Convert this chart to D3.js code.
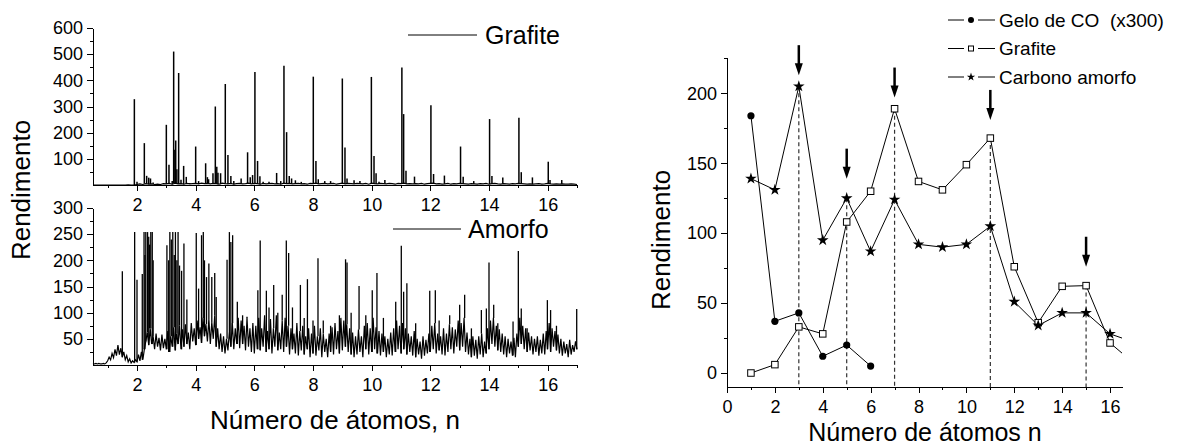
<!DOCTYPE html>
<html>
<head>
<meta charset="utf-8">
<script src="https://cdn.jsdelivr.net/npm/d3@7"></script>
<style>
body { margin: 0; background: #fff; }
text { font-family: Arial, "Liberation Sans", sans-serif; fill: #000; white-space: pre; }
.axis path, .axis line { stroke: #000; stroke-width: 1; shape-rendering: crispEdges; }
</style>
</head>
<body>
<script>
// ---------- data: left, Grafite spectrum ----------
// [n, rendimento] of the sharp peaks
var grafitePeaks = [
  [1.91,328],[2.0,12],[2.25,160],[2.33,35],[2.4,28],[2.46,25],[2.55,10],
  [3.0,230],[3.09,77],[3.2,15],[3.25,510],[3.29,135],[3.32,170],[3.36,60],[3.42,428],[3.5,20],[3.59,73],[3.68,31],[3.8,8],
  [4.0,147],[4.1,15],[4.34,83],[4.4,30],[4.44,22],[4.59,45],[4.67,300],[4.72,70],[4.76,47],[4.85,45],
  [5.01,386],[5.1,115],[5.2,34],[5.3,15],[5.55,25],[5.77,125],[5.86,30],[5.94,38],
  [6.02,432],[6.11,92],[6.19,33],[6.3,12],[6.5,12],[6.76,46],[6.9,15],
  [7.01,456],[7.1,202],[7.19,34],[7.27,25],[7.4,18],[7.6,12],
  [8.01,414],[8.1,92],[8.18,22],[8.4,15],[8.6,15],
  [9.0,407],[9.09,143],[9.16,25],[9.4,18],[9.6,15],
  [9.99,413],[10.08,111],[10.15,45],[10.25,12],[10.45,19],
  [11.03,449],[11.09,271],[11.17,54],[11.46,32],
  [12.02,305],[12.11,42],[12.48,36],
  [13.03,147],[13.12,32],[13.48,15],
  [14.02,252],[14.1,34],[14.47,29],
  [15.02,257],[15.1,49],[15.48,29],
  [16.02,89],[16.08,19],[16.48,19]
];
// baseline, n = 0.5 .. 17.0 in steps of 0.1
var grafiteBase = [
  0,0,0,0,0,0,0,0,0,0,
  0,0,1,0,0,2,4,2,5,3,
  4,2,3,2,5,4,6,3,7,4,
  5,3,6,4,5,6,4,7,5,6,
  4,6,5,3,7,5,4,6,3,5,
  6,4,5,7,4,6,5,3,6,4,
  5,6,4,5,3,7,5,6,4,5,
  6,4,5,3,6,5,7,4,5,6,
  4,5,6,3,5,7,4,6,5,4,
  6,5,4,6,3,7,5,4,6,5,
  4,6,5,3,6,5,7,4,5,4,
  5,4,6,3,5,6,7,4,5,3,
  4,6,3,5,4,6,5,4,3,5,
  4,3,5,4,6,3,5,6,4,3,
  5,4,3,5,4,6,5,4,3,4,
  3,4,5,3,4,6,4,3,4,3,
  4,3,3,4,3,2
];

// ---------- data: left, Amorfo spectrum ----------
var amorfoSpikes = [
  [1.5,179],[1.92,254],[2.0,163],[2.18,174],[2.24,254],[2.27,210],[2.3,254],[2.36,254],[2.4,245],[2.43,230],[2.47,254],[2.52,254],[2.55,200],
  [3.02,229],[3.08,200],[3.12,254],[3.17,240],[3.22,254],[3.27,210],[3.31,254],[3.36,200],[3.4,254],[3.45,190],[3.52,180],[3.6,232],[3.7,125],
  [4.02,252],[4.1,146],[4.2,248],[4.26,254],[4.3,200],[4.37,168],[4.45,194],[4.55,168],[4.65,176],[4.7,130],
  [5.07,201],[5.15,254],[5.2,235],[5.26,248],[5.42,121],[5.6,95],[5.75,92],
  [6.12,143],[6.2,238],[6.41,142],[6.5,110],[6.66,153],[6.8,100],[6.95,134],
  [7.09,238],[7.17,214],[7.3,110],[7.57,153],[7.7,90],[7.81,164],
  [8.0,85],[8.17,204],[8.35,85],[8.6,75],[8.9,95],
  [9.11,202],[9.16,196],[9.3,100],[9.57,151],[9.8,95],
  [10.02,143],[10.18,176],[10.4,90],[10.82,121],
  [11.01,228],[11.09,140],[11.2,156],[11.5,80],[11.98,142],
  [12.17,143],[12.3,85],[12.66,95],[13.0,115],[13.17,134],[13.4,70],[13.74,105],[13.91,108],
  [14.0,196],[14.16,115],[14.3,80],[14.82,83],
  [15.0,218],[15.1,108],[15.3,70],[15.99,124],[16.1,105],[16.3,75],[16.99,107]
];
// noisy background, n = 0.5 .. 17.0 in steps of 0.05
var amorfoNoise = [
  3,2,3,2,3,2,2,3,2,4,
  8,15,10,22,14,30,18,38,20,32,
  15,25,10,18,6,12,4,8,5,10,
  6,20,8,25,10,30,45,62,38,70,
  40,55,30,60,35,52,28,58,32,50,
  30,65,25,55,35,72,28,60,40,75,
  30,68,35,78,40,62,30,80,45,70,
  38,85,50,72,42,90,55,78,45,88,
  40,82,50,95,35,70,30,60,25,55,
  22,50,28,65,35,80,30,70,40,90,
  32,85,40,75,28,90,35,70,25,80,
  22,75,30,90,28,70,35,95,25,65,
  30,88,22,70,35,95,28,62,30,85,
  25,90,35,75,20,70,30,60,22,80,
  18,65,28,75,20,55,30,70,15,60,
  22,75,18,55,28,70,15,60,25,50,
  15,60,25,72,20,80,30,65,22,90,
  28,85,35,78,25,70,20,62,15,55,
  20,68,25,55,15,75,30,80,20,70,
  25,90,30,72,22,65,18,60,25,55,
  15,50,20,62,18,70,25,85,30,75,
  22,80,30,70,20,60,25,55,18,65,
  15,50,20,45,12,55,18,48,22,60,
  25,75,30,80,22,60,28,55,20,70,
  18,60,25,78,30,72,22,68,35,85,
  28,80,35,90,25,62,20,50,15,55,
  18,48,12,55,20,60,15,45,22,70,
  30,85,40,90,35,75,28,68,25,60,
  20,55,15,50,22,45,18,52,15,60,
  35,90,40,75,30,70,25,62,28,55,
  20,50,25,55,18,48,22,60,20,65,
  30,80,25,70,35,65,28,58,22,50,
  18,45,22,40,15,48,20,38,25,45,
  30
];

// ---------- data: right panel ----------
var nAtoms = [1,2,3,4,5,6,7,8,9,10,11,12,13,14,15,16,17];
var geloCO = [184,37,43,12,20,5];
var grafite = [0,6,33,28,108,130,189,137,131,149,168,76,36,62,62.5,21.5,7];
var carbonoAmorfo = [139,131,205,95,125,87,124,92,90,92,105,51,34,43,43,28,22];
var legendNames = ["Gelo de CO  (x300)", "Grafite", "Carbono amorfo"];
var markN = [3,5,7,11,15];           // dashed guides
var arrowTip = [213,139,197,181,76]; // where the arrows point

// ---------- svg ----------
var svg = d3.select("body").append("svg")
  .attr("width", 1178)
  .attr("height", 448);

var FONT = "Arial, 'Liberation Sans', sans-serif";

// Scales
var xL = d3.scaleLinear().domain([0.5, 17]).range([93, 577]);
var yTop = d3.scaleLinear().domain([0, 600]).range([185, 28]);
var yBot = d3.scaleLinear().domain([0, 300]).range([365, 208]);
var xR = d3.scaleLinear().domain([0, 16.5]).range([727, 1122]);
var yR = d3.scaleLinear().domain([-10, 226]).range([387, 57]);

function yAxis(scale, x, major, minor) {
  var g = svg.append("g").attr("class", "axis")
    .attr("transform", "translate(" + x + ",0)");
  g.call(d3.axisLeft(scale).tickValues(major).tickSize(6).tickSizeOuter(0).tickPadding(4));
  g.append("g").call(d3.axisLeft(scale).tickValues(minor).tickSize(3).tickFormat(""))
    .select(".domain").remove();
  g.attr("font-size", 18).attr("font-family", FONT);
}
function xAxis(scale, y, major, minor) {
  var g = svg.append("g").attr("class", "axis")
    .attr("transform", "translate(0," + y + ")");
  g.call(d3.axisBottom(scale).tickValues(major).tickSize(6).tickSizeOuter(0).tickPadding(7));
  g.append("g").call(d3.axisBottom(scale).tickValues(minor).tickSize(3).tickFormat(""))
    .select(".domain").remove();
  g.attr("font-size", 18).attr("font-family", FONT);
}

var evens = d3.range(2, 17, 2);
var odds = d3.range(1, 18, 2);

/********* LEFT TOP: Grafite ************/
var baseLine = d3.line()
  .x(function(d, i) { return xL(0.5 + i * 0.1); })
  .y(function(d) { return yTop(d); });

svg.append("path")
  .attr("d", baseLine(grafiteBase))
  .attr("fill", "none")
  .attr("stroke", "#000")
  .attr("stroke-width", 1.2);

svg.append("g").selectAll("line")
  .data(grafitePeaks)
  .enter()
  .append("line")
  .attr("x1", function(d) { return xL(d[0]); })
  .attr("x2", function(d) { return xL(d[0]); })
  .attr("y1", function(d) { return yTop(grafiteBase[Math.round((d[0] - 0.5) / 0.1)] || 0); })
  .attr("y2", function(d) { return yTop(d[1]); })
  .attr("stroke", "#000")
  .attr("stroke-width", 1.5);

yAxis(yTop, 93, d3.range(100, 601, 100), d3.range(50, 600, 100));
xAxis(xL, 185, evens, odds);

// legend
svg.append("line").attr("x1", 408).attr("x2", 477).attr("y1", 35).attr("y2", 35)
  .attr("stroke", "#000").attr("stroke-width", 1);
svg.append("text").attr("x", 485).attr("y", 44).attr("font-size", 25).text("Grafite");

/********* LEFT BOTTOM: Amorfo ************/
var noiseLine = d3.line()
  .x(function(d, i) { return xL(0.5 + i * 0.05); })
  .y(function(d) { return yBot(d); });

svg.append("path")
  .attr("d", noiseLine(amorfoNoise))
  .attr("fill", "none")
  .attr("stroke", "#000")
  .attr("stroke-width", 1.2);

svg.append("g").selectAll("line")
  .data(amorfoSpikes)
  .enter()
  .append("line")
  .attr("x1", function(d) { return xL(d[0]); })
  .attr("x2", function(d) { return xL(d[0]); })
  .attr("y1", function(d) { return yBot(amorfoNoise[Math.round((d[0] - 0.5) / 0.05)] || 0); })
  .attr("y2", function(d) { return yBot(d[1]); })
  .attr("stroke", "#000")
  .attr("stroke-width", 1.3);

yAxis(yBot, 93, d3.range(50, 301, 50), d3.range(25, 300, 50));
xAxis(xL, 365, evens, odds);

svg.append("line").attr("x1", 393).attr("x2", 461).attr("y1", 229).attr("y2", 229)
  .attr("stroke", "#000").attr("stroke-width", 1);
svg.append("text").attr("x", 468).attr("y", 238).attr("font-size", 25).text("Amorfo");

// titles
svg.append("text")
  .attr("transform", "translate(21,190) rotate(-90)")
  .attr("text-anchor", "middle").attr("dominant-baseline", "central")
  .attr("font-size", 26).text("Rendimento");
svg.append("text")
  .attr("x", 335).attr("y", 429).attr("text-anchor", "middle")
  .attr("font-size", 26).text("Número de átomos, n");

/********* RIGHT PANEL ************/
svg.append("defs").append("clipPath").attr("id", "clipR")
  .append("rect").attr("x", 727).attr("y", 57).attr("width", 1122 - 727).attr("height", 387 - 57);

// dashed guides
markN.forEach(function(n) {
  var top = d3.max([grafite[n - 1], carbonoAmorfo[n - 1]]);
  svg.append("line")
    .attr("x1", xR(n)).attr("x2", xR(n))
    .attr("y1", yR(top)).attr("y2", 387)
    .attr("stroke", "#333").attr("stroke-width", 1.2)
    .attr("stroke-dasharray", "4,3");
});

// arrows
markN.forEach(function(n, i) {
  var x = xR(n), tip = yR(arrowTip[i]);
  svg.append("line").attr("x1", x).attr("x2", x)
    .attr("y1", tip - 30).attr("y2", tip - 10)
    .attr("stroke", "#000").attr("stroke-width", 2.5);
  svg.append("path")
    .attr("d", "M" + (x - 4) + "," + (tip - 12) + "L" + (x + 4) + "," + (tip - 12) + "L" + x + "," + tip + "Z")
    .attr("fill", "#000");
});

var series = [
  { name: legendNames[0], values: geloCO, symbol: "circle" },
  { name: legendNames[1], values: grafite, symbol: "square" },
  { name: legendNames[2], values: carbonoAmorfo, symbol: "star" }
];

var lineR = d3.line()
  .x(function(d, i) { return xR(nAtoms[i]); })
  .y(function(d) { return yR(d); });

var plotR = svg.append("g").attr("clip-path", "url(#clipR)");

series.forEach(function(s) {
  plotR.append("path")
    .attr("d", lineR(s.values))
    .attr("fill", "none")
    .attr("stroke", "#000")
    .attr("stroke-width", 1);
});

function drawMarker(g, type, x, y, small) {
  if (type === "circle") {
    g.append("circle").attr("cx", x).attr("cy", y).attr("r", small ? 3 : 3.6).attr("fill", "#000");
  } else if (type === "square") {
    var s = small ? 5 : 6.5;
    g.append("rect").attr("x", x - s / 2).attr("y", y - s / 2).attr("width", s).attr("height", s)
      .attr("fill", "#fff").attr("stroke", "#000").attr("stroke-width", 1);
  } else {
    g.append("path")
      .attr("d", d3.symbol().type(d3.symbolStar).size(small ? 22 : 42)())
      .attr("transform", "translate(" + x + "," + y + ")")
      .attr("fill", "#000");
  }
}

series.forEach(function(s) {
  s.values.forEach(function(v, i) {
    if (nAtoms[i] > 16.5) return;
    drawMarker(plotR, s.symbol, xR(nAtoms[i]), yR(v), false);
  });
});

yAxis(yR, 727, d3.range(0, 201, 50), d3.range(25, 226, 50));
xAxis(xR, 387, d3.range(0, 17, 2), d3.range(1, 16, 2));

svg.append("text")
  .attr("transform", "translate(661,240) rotate(-90)")
  .attr("text-anchor", "middle").attr("dominant-baseline", "central")
  .attr("font-size", 26).text("Rendimento");
svg.append("text")
  .attr("x", 925).attr("y", 441).attr("text-anchor", "middle")
  .attr("font-size", 25).text("Número de átomos n");

// legend
var legendRows = [20, 48.5, 77];
series.forEach(function(s, i) {
  var y = legendRows[i];
  var lg = svg.append("g");
  lg.append("line").attr("x1", 948).attr("x2", 964).attr("y1", y).attr("y2", y)
    .attr("stroke", "#000").attr("stroke-width", 1);
  lg.append("line").attr("x1", 978).attr("x2", 995).attr("y1", y).attr("y2", y)
    .attr("stroke", "#000").attr("stroke-width", 1);
  drawMarker(lg, s.symbol, 971, y, true);
  lg.append("text").attr("x", 999).attr("y", y)
    .attr("dominant-baseline", "central")
    .attr("font-size", 19).text(s.name);
});
</script>
</body>
</html>
